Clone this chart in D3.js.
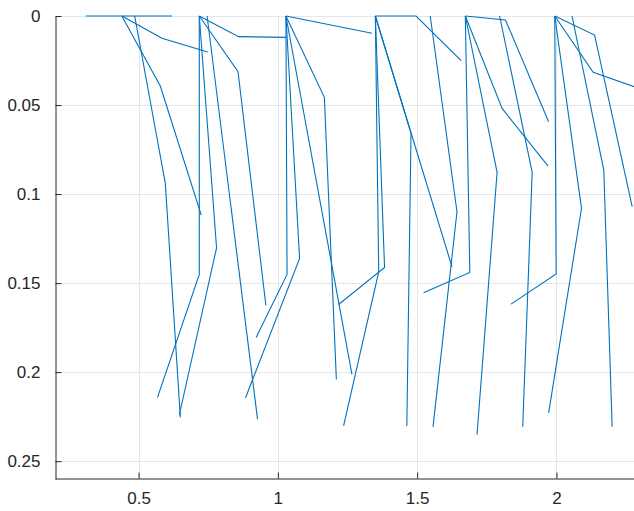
<!DOCTYPE html>
<html>
<head>
<meta charset="utf-8">
<script src="https://cdn.jsdelivr.net/npm/d3@7"></script>
<style>
  body { margin: 0; background: #fff; }
  svg { display: block; }
</style>
</head>
<body>
<script>
// each polyline: x values and y values (depth)
const lineX = [
    [0.311, 0.440, 0.620],
    [0.440, 0.584, 0.748],
    [0.440, 0.578, 0.725],
    [0.486, 0.596, 0.650],
    [0.718, 0.718, 0.568],
    [0.718, 0.859, 1.029],
    [0.718, 0.857, 0.957],
    [0.718, 0.780, 0.646],
    [0.746, 0.927],
    [1.029, 1.033, 0.922],
    [1.029, 1.338],
    [1.029, 1.167, 1.210],
    [1.029, 1.078, 0.884],
    [1.029, 1.266],
    [1.350, 1.383, 1.218],
    [1.350, 1.362, 1.236],
    [1.350, 1.478, 1.463],
    [1.350, 1.625],
    [1.350, 1.496, 1.658],
    [1.547, 1.643, 1.557],
    [1.673, 1.689, 1.523],
    [1.673, 1.817, 1.972],
    [1.673, 1.805, 1.970],
    [1.673, 1.787, 1.715],
    [1.796, 1.913, 1.879],
    [1.994, 1.999, 1.837],
    [1.994, 2.137, 2.272],
    [1.994, 2.132, 2.320],
    [1.994, 2.090, 1.972],
    [2.056, 2.170, 2.200]
];
const lineY = [
    [0, 0, 0],
    [0, 0.0125, 0.0202],
    [0, 0.0393, 0.1118],
    [0, 0.0940, 0.2254],
    [0, 0.1451, 0.2142],
    [0, 0.0116, 0.0120],
    [0, 0.0313, 0.1625],
    [0, 0.1302, 0.2242],
    [0, 0.2264],
    [0, 0.1451, 0.1805],
    [0, 0.0097],
    [0, 0.0457, 0.2041],
    [0, 0.1361, 0.2144],
    [0, 0.2013],
    [0, 0.1412, 0.1620],
    [0, 0.1437, 0.2302],
    [0, 0.0659, 0.2302],
    [0, 0.1408],
    [0, 0, 0.0251],
    [0, 0.1099, 0.2307],
    [0, 0.1440, 0.1554],
    [0, 0.0022, 0.0594],
    [0, 0.0519, 0.0843],
    [0, 0.0878, 0.2350],
    [0, 0.0878, 0.2307],
    [0, 0.1449, 0.1618],
    [0, 0.0107, 0.1071],
    [0, 0.0316, 0.0419],
    [0, 0.1080, 0.2229],
    [0, 0.0865, 0.2307]
];
const xTicks = [0.5, 1, 1.5, 2];
const yTicks = [0, 0.05, 0.1, 0.15, 0.2, 0.25];

function main(){
    const width = 634;
    const height = 511;
    const left = 55, top = 16, right = 640, bottom = 479;

    const svg = d3.select("body").append("svg")
        .attr("width", width)
        .attr("height", height)
        .style("font-family", "'Liberation Sans', Arial, sans-serif");

    const x = d3.scaleLinear().domain([0.2, 2.3]).range([left, right]);
    const y = d3.scaleLinear().domain([0, 0.26]).range([top, bottom]);

    const grid = svg.append("g").attr("stroke", "#e6e6e6").attr("stroke-width", 1);
    grid.selectAll(".gx").data(xTicks).enter().append("line")
        .attr("x1", d => Math.round(x(d)) + 0.5).attr("x2", d => Math.round(x(d)) + 0.5)
        .attr("y1", top).attr("y2", bottom);
    grid.selectAll(".gy").data(yTicks).enter().append("line")
        .attr("y1", d => Math.round(y(d)) + 0.5).attr("y2", d => Math.round(y(d)) + 0.5)
        .attr("x1", left).attr("x2", right);

    // the polylines
    const lines = lineX.map((xs, i) => xs.map((v, j) => [v, lineY[i][j]]));
    const path = d3.line().x(d => x(d[0])).y(d => y(d[1]));
    svg.append("g").selectAll("path")
        .data(lines)
        .enter().append("path")
        .attr("d", path)
        .attr("fill", "none")
        .attr("stroke", "#0072BD")
        .attr("stroke-width", 1.1);

    // axes, ticks pointing inward like matlab
    const xAxis = d3.axisBottom(x).tickValues(xTicks).tickSizeInner(-6).tickSizeOuter(0)
        .tickPadding(13).tickFormat(d3.format("~g"));
    const gx = svg.append("g").attr("transform", "translate(0," + (bottom - 0.5) + ")").call(xAxis);
    const yAxis = d3.axisLeft(y).tickValues(yTicks).tickSizeInner(-6).tickSizeOuter(0)
        .tickPadding(15).tickFormat(d3.format("~g"));
    const gy = svg.append("g").attr("transform", "translate(" + (left + 0.5) + ",0)").call(yAxis);

    [gx, gy].forEach(g => {
        g.selectAll("path").attr("stroke", "#262626");
        g.selectAll("line").attr("stroke", "#262626");
        g.selectAll("text").attr("fill", "#262626").style("font-size", "17px");
    });
}
main();
</script>
</body>
</html>
